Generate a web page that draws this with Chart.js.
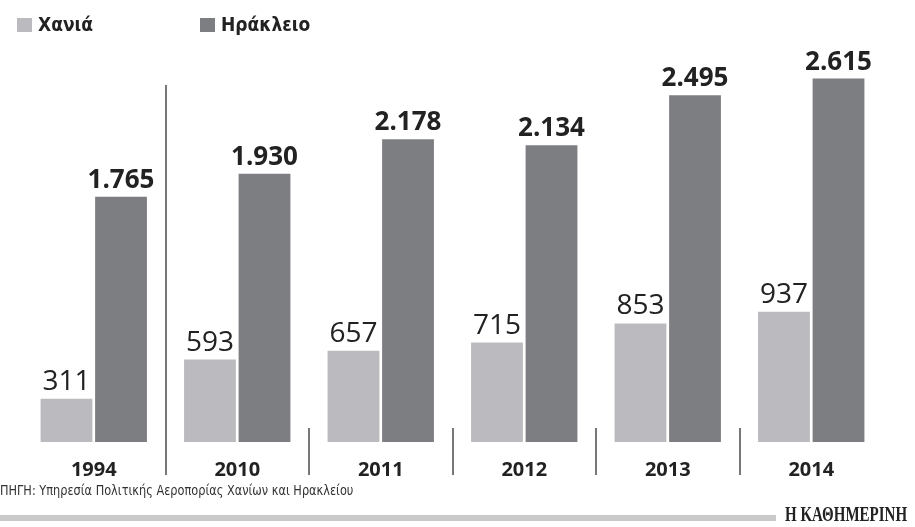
<!DOCTYPE html>
<html>
<head>
<meta charset="utf-8">
<script src="https://cdn.jsdelivr.net/npm/chart.js@4"></script>
<style>
  body { margin: 0; background: #fff; }
  #wrap { position: relative; width: 915px; height: 527px; overflow: hidden; }
  #chart { position: absolute; left: 0; top: 0; }
  .legend { position: absolute; top: 14px; font-family: "DejaVu Sans Condensed", "DejaVu Sans", sans-serif; font-weight: bold; font-size: 19px; color: #222; line-height: 20px; }
  .legend i { display: inline-block; width: 15px; height: 14px; margin-right: 6px; vertical-align: -1px; }
  #source { position: absolute; left: 0; top: 482px; font-family: "Liberation Sans Narrow", "DejaVu Sans Condensed", sans-serif; font-size: 14px; color: #333; transform: scaleX(0.9); transform-origin: left top; white-space: nowrap; }
  #rule { position: absolute; left: 0; top: 515px; width: 776px; height: 6px; background: #c9c9c9; }
  #brand { position: absolute; left: 785px; top: 503px; font-family: "Liberation Serif", serif; font-weight: bold; font-size: 20px; color: #222; transform: scaleX(0.75); transform-origin: left top; white-space: nowrap; }
</style>
</head>
<body>
<div id="wrap">
  <canvas id="chart" width="915" height="527"></canvas>
  <div class="legend" style="left:17px"><i style="background:#bbbbbf"></i>Χανιά</div>
  <div class="legend" style="left:200px"><i style="background:#7d7e82"></i>Ηράκλειο</div>
  <div id="source">ΠΗΓΗ: Υπηρεσία Πολιτικής Αεροπορίας Χανίων και Ηρακλείου</div>
  <div id="rule"></div>
  <div id="brand">Η ΚΑΘΗΜΕΡΙΝΗ</div>
</div>
<script>
const years = ['1994', '2010', '2011', '2012', '2013', '2014'];
const chania = [311, 593, 657, 715, 853, 937];
const heraklion = [1765, 1930, 2178, 2134, 2495, 2615];

const lightColor = '#bbbbbf';
const darkColor = '#7d7e82';

// greek style thousands: 1.765
function fmt(v) {
    return String(v).replace(/\B(?=(\d{3})+(?!\d))/g, '.');
}

const valueLabels = {
    id: 'valueLabels',
    afterDatasetsDraw(chart) {
        const c = chart.ctx;
        c.save();
        c.textAlign = 'center';
        c.textBaseline = 'alphabetic';
        chart.data.datasets.forEach((ds, di) => {
            const meta = chart.getDatasetMeta(di);
            c.fillStyle = '#222';
            c.font = di === 0 ? '28px "Open Sans"' : 'bold 26px "Open Sans"';
            meta.data.forEach((bar, i) => {
                c.fillText(fmt(ds.data[i]), bar.x, bar.y - 9);
            });
        });
        c.restore();
    }
};

const separators = {
    id: 'separators',
    afterDraw(chart) {
        const x = chart.scales.x;
        const c = chart.ctx;
        c.save();
        c.strokeStyle = '#777';
        c.lineWidth = 2;
        for (let i = 1; i < years.length; i++) {
            const px = Math.round((x.getPixelForValue(i - 1) + x.getPixelForValue(i)) / 2);
            c.beginPath();
            c.moveTo(px, i === 1 ? 85 : 428);
            c.lineTo(px, 475);
            c.stroke();
        }
        c.restore();
    }
};

new Chart(document.getElementById('chart'), {
    type: 'bar',
    data: {
        labels: years,
        datasets: [
            { label: 'Χανιά', data: chania, backgroundColor: lightColor, categoryPercentage: 0.76, barPercentage: 0.95 },
            { label: 'Ηράκλειο', data: heraklion, backgroundColor: darkColor, categoryPercentage: 0.76, barPercentage: 0.95 }
        ]
    },
    options: {
        responsive: false,
        animation: false,
        layout: { padding: { left: 22, right: 32, top: 25, bottom: 37 } },
        plugins: { legend: { display: false }, tooltip: { enabled: false } },
        scales: {
            x: {
                grid: { display: false },
                border: { display: false },
                ticks: { color: '#222', padding: 8, font: { family: 'Open Sans', weight: 'bold', size: 20 } }
            },
            y: { display: false, min: 0, max: 3000 }
        }
    },
    plugins: [valueLabels, separators]
});
</script>
</body>
</html>
